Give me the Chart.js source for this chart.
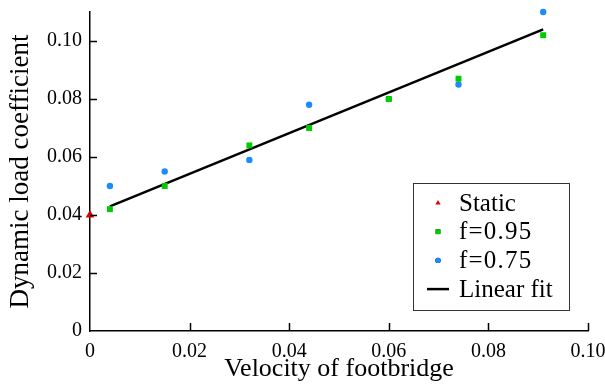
<!DOCTYPE html>
<html>
<head>
<meta charset="utf-8">
<style>
  html, body { margin: 0; padding: 0; background: #fff; }
  #wrap { width: 605px; height: 389px; }
</style>
</head>
<body>
<div id="wrap"><canvas id="dlcChart"></canvas></div>

<script src="https://cdn.jsdelivr.net/npm/chart.js"></script>
<script>
// values
const velocity = [0.004, 0.015, 0.032, 0.044, 0.060, 0.074, 0.091];
const dlcF095 = [0.042, 0.050, 0.064, 0.070, 0.080, 0.087, 0.102];
const dlcF075 = [0.050, 0.055, 0.059, 0.078, 0.080, 0.085, 0.110];
const staticX = [0];
const staticY = [0.040];
const fitX = [0.004, 0.091];
const fitY = [0.043, 0.104];

const xTicks = [0, 0.02, 0.04, 0.06, 0.08, 0.10];
const yTicks = [0, 0.02, 0.04, 0.06, 0.08, 0.10];

const toPoints = (xs, ys) => xs.map((x, i) => ({ x: x, y: ys[i] }));
const fmt = v => (Math.abs(v) < 1e-9 ? '0' : v.toFixed(2));
const serif = "'Liberation Serif', 'Times New Roman', serif";

// inward tick marks (the axes in the figure have ticks pointing into the plot)
const inwardTicks = {
    id: 'inwardTicks',
    afterDatasetsDraw(chart) {
        const { ctx, chartArea, scales } = chart;
        ctx.save();
        ctx.strokeStyle = '#000';
        ctx.lineWidth = 1.5;
        ctx.beginPath();
        xTicks.forEach(v => {
            if (v === 0) return;
            const px = Math.round(scales.x.getPixelForValue(v)) + 0.5;
            ctx.moveTo(px, chartArea.bottom);
            ctx.lineTo(px, chartArea.bottom - 8);
        });
        yTicks.forEach(v => {
            if (v === 0) return;
            const py = Math.round(scales.y.getPixelForValue(v)) + 0.5;
            ctx.moveTo(chartArea.left, py);
            ctx.lineTo(chartArea.left + 7, py);
        });
        ctx.stroke();
        ctx.restore();
    }
};

// boxed legend sitting inside the plot, lower right
const boxLegend = {
    id: 'boxLegend',
    afterDraw(chart) {
        const { ctx, chartArea } = chart;
        const left = chartArea.right - 175, top = chartArea.top + 171;
        const w = 156, h = 127, rowH = 28.7;
        ctx.save();
        ctx.fillStyle = '#fff';
        ctx.fillRect(left, top, w, h);
        ctx.strokeStyle = '#333';
        ctx.lineWidth = 1;
        ctx.strokeRect(left + 0.5, top + 0.5, w, h);
        ctx.font = '25px ' + serif;
        ctx.textBaseline = 'middle';
        ctx.textAlign = 'left';
        chart.data.datasets.forEach((ds, i) => {
            const cy = top + 20 + i * rowH;
            const mx = left + 25;
            if (ds.showLine) {
                ctx.strokeStyle = ds.borderColor;
                ctx.lineWidth = 2.5;
                ctx.beginPath();
                ctx.moveTo(mx - 11, cy);
                ctx.lineTo(mx + 11, cy);
                ctx.stroke();
            } else {
                Chart.helpers.drawPoint(ctx, {
                    pointStyle: ds.pointStyle,
                    radius: ds.legendRadius,
                    rotation: 0,
                    borderWidth: 0
                }, mx, cy);
                ctx.fillStyle = ds.backgroundColor;
                ctx.fill();
            }
            ctx.fillStyle = '#000';
            ctx.letterSpacing = ds.label.includes('=') ? '1.2px' : '0px';
            ctx.fillText(ds.label, left + 46, cy + 1);
        });
        ctx.restore();
    }
};

new Chart(document.getElementById('dlcChart'), {
    type: 'scatter',
    data: {
        datasets: [
            {
                label: 'Static', data: toPoints(staticX, staticY),
                pointStyle: 'triangle', pointRadius: 5, legendRadius: 3,
                backgroundColor: '#dd0000', borderWidth: 0, clip: false
            },
            {
                label: 'f=0.95', data: toPoints(velocity, dlcF095),
                pointStyle: 'rect', pointRadius: 4.2, legendRadius: 3.4,
                backgroundColor: '#00cc00', borderWidth: 0, clip: false
            },
            {
                label: 'f=0.75', data: toPoints(velocity, dlcF075),
                pointStyle: 'circle', pointRadius: 3.2, legendRadius: 2.7,
                backgroundColor: '#1a8cff', borderWidth: 0, clip: false
            },
            {
                label: 'Linear fit', data: toPoints(fitX, fitY),
                showLine: true, pointRadius: 0, borderColor: '#000',
                borderWidth: 2.5, fill: false, clip: false
            }
        ]
    },
    options: {
        responsive: true,
        maintainAspectRatio: false,
        animation: false,
        layout: { padding: { top: 12, right: 17, left: 0, bottom: 0 } },
        plugins: {
            legend: { display: false },
            tooltip: { enabled: false }
        },
        scales: {
            x: {
                type: 'linear',
                min: 0, max: 0.10,
                afterFit: s => { s.height = 58; s.paddingLeft = 0; s.paddingRight = 0; },
                border: { display: true, color: '#000', width: 1.5 },
                grid: { display: false, drawTicks: false },
                ticks: {
                    stepSize: 0.02, includeBounds: false, padding: 9,
                    color: '#000', font: { family: serif, size: 20 },
                    maxRotation: 0, callback: v => fmt(v)
                },
                title: {
                    display: true, text: 'Velocity of footbridge',
                    color: '#000', font: { family: serif, size: 26 },
                    padding: { top: 0, bottom: 4 }
                }
            },
            y: {
                type: 'linear',
                min: 0, max: 0.11,
                afterFit: s => { s.width = 90; s.paddingTop = 0; s.paddingBottom = 0; },
                border: { display: true, color: '#000', width: 1.5 },
                grid: { display: false, drawTicks: false },
                ticks: {
                    stepSize: 0.02, includeBounds: false, padding: 8,
                    color: '#000', font: { family: serif, size: 20 },
                    callback: v => fmt(v)
                },
                title: {
                    display: true, text: 'Dynamic load coefficient',
                    color: '#000', font: { family: serif, size: 27 },
                    padding: { top: 5, bottom: 0 }
                }
            }
        }
    },
    plugins: [inwardTicks, boxLegend]
});
</script>
</body>
</html>
